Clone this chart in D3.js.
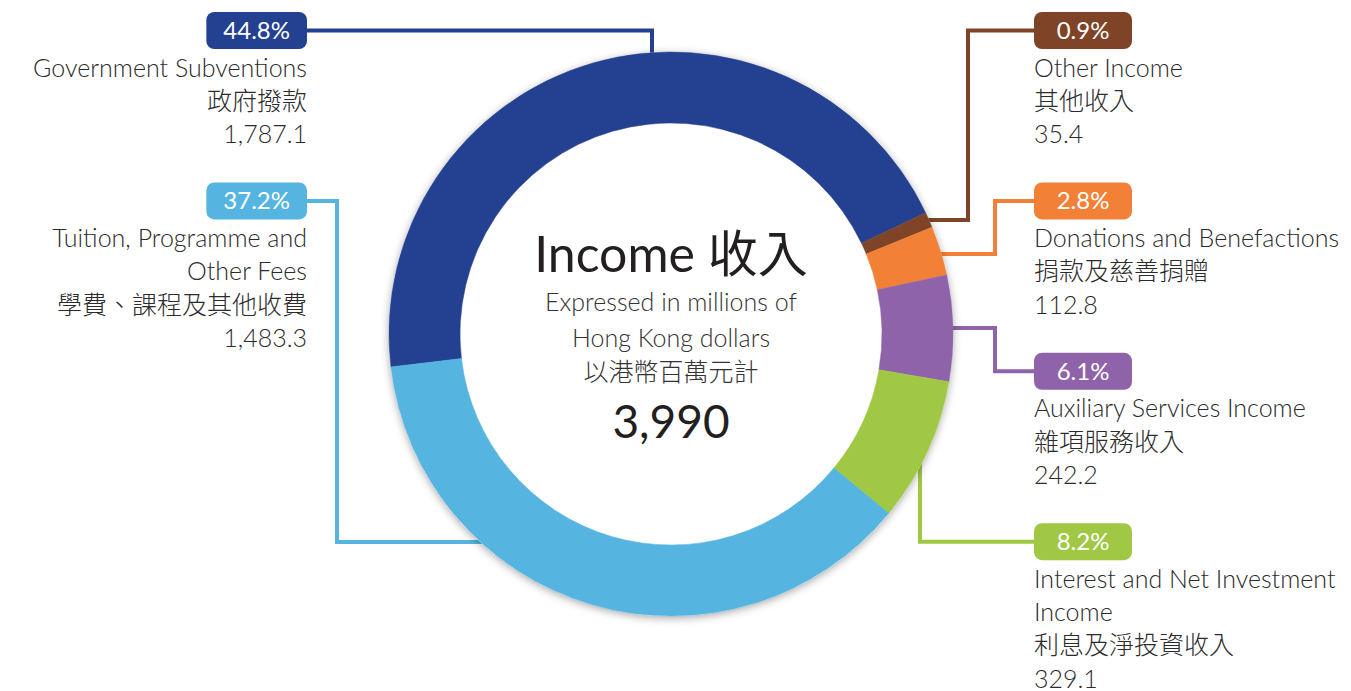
<!DOCTYPE html>
<html>
<head>
<meta charset="utf-8">
<script src="https://cdn.jsdelivr.net/npm/d3@7"></script>
<style>
  body { margin: 0; background: #fff; }
  text { font-family: Lato, "Noto Sans CJK TC", sans-serif; }
</style>
</head>
<body>
<script>
var width = 1351;
var height = 691;

// data, in pie order (clockwise from the left edge of the ring)
var categories = ["Government Subventions", "Other Income", "Donations and Benefactions",
                  "Auxiliary Services Income", "Interest and Net Investment Income",
                  "Tuition, Programme and Other Fees"];
var categoryLines = [["Government Subventions"], ["Other Income"], ["Donations and Benefactions"],
                     ["Auxiliary Services Income"], ["Interest and Net Investment", "Income"],
                     ["Tuition, Programme and", "Other Fees"]];
var categoriesZh = ["政府撥款", "其他收入", "捐款及慈善捐贈", "雜項服務收入", "利息及淨投資收入", "學費、課程及其他收費"];
var values = [1787.1, 35.4, 112.8, 242.2, 329.1, 1483.3];
var shares = [44.8, 0.9, 2.8, 6.1, 8.2, 37.2];
var colors = ["#244191", "#7f4428", "#f28036", "#8f63aa", "#a1c845", "#55b5e0"];

var cx = 671, cy = 334, rOut = 282, rIn = 211;
var rHit = rOut - 6;
var startDeg = -96.7;

var svg = d3.select("body").append("svg")
    .attr("width", width)
    .attr("height", height);

var defs = svg.append("defs");
var f = defs.append("filter").attr("id", "shadow")
    .attr("x", "-10%").attr("y", "-10%").attr("width", "120%").attr("height", "120%");
f.append("feDropShadow")
    .attr("dx", 0).attr("dy", 2)
    .attr("stdDeviation", 4)
    .attr("flood-color", "#000")
    .attr("flood-opacity", 0.35);

// label layout: side, row, elbow route (the last leg runs into the ring)
var rowTop = function (r) { return 12 + r * 170.4; };
var boxH = 37;
var layout = [
  { side: "L", row: 0, route: [[652, null]], end: "down" },
  { side: "R", row: 0, route: [[968, null], [968, 220]], end: "left" },
  { side: "R", row: 1, route: [[995, null], [995, 254]], end: "left" },
  { side: "R", row: 2, route: [[995, null], [995, 328]], end: "left" },
  { side: "R", row: 3, route: [[920, null]], end: "up" },
  { side: "L", row: 1, route: [[337, null], [337, 542]], end: "right" }
];
var leftEdge = 307, rightEdge = 1034;

function ringHit(p, dir) {
  if (dir == "down") return [p[0], cy - Math.sqrt(rHit * rHit - (p[0] - cx) * (p[0] - cx))];
  if (dir == "up") return [p[0], cy + Math.sqrt(rHit * rHit - (p[0] - cx) * (p[0] - cx))];
  if (dir == "left") return [cx + Math.sqrt(rHit * rHit - (p[1] - cy) * (p[1] - cy)), p[1]];
  return [cx - Math.sqrt(rHit * rHit - (p[1] - cy) * (p[1] - cy)), p[1]];
}

var lines = svg.append("g").attr("class", "leaders");
layout.forEach(function (l, i) {
  var y0 = rowTop(l.row) + boxH / 2;
  var pts = [[l.side == "L" ? leftEdge : rightEdge, y0]];
  l.route.forEach(function (p) { pts.push([p[0], p[1] == null ? y0 : p[1]]); });
  pts.push(ringHit(pts[pts.length - 1], l.end));
  lines.append("path")
    .attr("d", d3.line()(pts))
    .attr("fill", "none")
    .attr("stroke", colors[i])
    .attr("stroke-width", 4);
});

// ring
var ring = svg.append("g").attr("transform", "translate(" + cx + "," + cy + ")");
ring.append("circle")
    .attr("r", rOut)
    .attr("fill", "#fff")
    .attr("filter", "url(#shadow)");

var pie = d3.pie().sort(null).value(function (d) { return d; })
    .startAngle(startDeg * Math.PI / 180)
    .endAngle(startDeg * Math.PI / 180 + 2 * Math.PI);
var arc = d3.arc().innerRadius(rIn).outerRadius(rOut);

ring.selectAll("path.slice")
    .data(pie(values))
  .enter().append("path")
    .attr("class", "slice")
    .attr("d", arc)
    .attr("fill", function (d, i) { return colors[i]; })
    .attr("stroke", function (d, i) { return colors[i]; })
    .attr("stroke-width", 0.5);

// centre text
var total = d3.sum(values);
var centre = svg.append("g").attr("text-anchor", "middle").attr("fill", "#231f20");
centre.append("text").attr("x", cx).attr("y", 272).style("font-size", "50px").text("Income 收入");
centre.append("text").attr("x", cx).attr("y", 311).style("font-size", "25px").style("font-weight", 300).attr("fill", "#333").text("Expressed in millions of");
centre.append("text").attr("x", cx).attr("y", 347).style("font-size", "25px").style("font-weight", 300).attr("fill", "#333").text("Hong Kong dollars");
centre.append("text").attr("x", cx).attr("y", 381).style("font-size", "25px").style("font-weight", 300).attr("fill", "#333").text("以港幣百萬元計");
centre.append("text").attr("x", cx).attr("y", 438).style("font-size", "46px").text(d3.format(",.0f")(total));

// labels
var fmtPct = function (v) { return v.toFixed(1) + "%"; };
var fmtVal = d3.format(",.1f");

layout.forEach(function (l, i) {
  var top = rowTop(l.row);
  var g = svg.append("g");
  var anchor = l.side == "L" ? "end" : "start";
  var x = l.side == "L" ? leftEdge : rightEdge;

  var box = g.append("rect").attr("y", top).attr("height", boxH)
      .attr("rx", 8).attr("fill", colors[i]);
  var pct = g.append("text")
      .attr("y", top + boxH / 2 + 8.5)
      .attr("text-anchor", "middle")
      .attr("fill", "#fff")
      .style("font-size", "24px")
      .text(fmtPct(shares[i]));
  var w = Math.max(98, pct.node().getComputedTextLength() + 34);
  var bx = l.side == "L" ? x - w : x;
  box.attr("x", bx).attr("width", w);
  pct.attr("x", bx + w / 2);

  var rows = categoryLines[i].concat([categoriesZh[i], fmtVal(values[i])]);
  g.selectAll("text.lbl")
      .data(rows)
    .enter().append("text")
      .attr("class", "lbl")
      .attr("x", x)
      .attr("y", function (d, j) { return top + 64.5 + j * 33.3; })
      .attr("text-anchor", anchor)
      .attr("fill", "#2b2b2b")
      .style("font-size", "25px")
      .style("font-weight", 300)
      .text(function (d) { return d; });
});
</script>
</body>
</html>
